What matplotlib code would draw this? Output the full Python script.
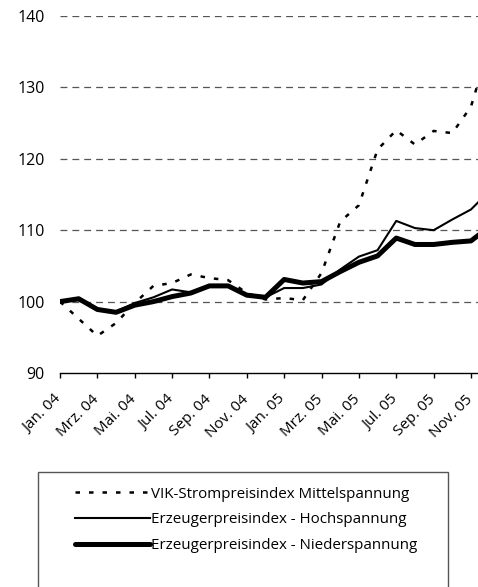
import matplotlib
matplotlib.use("Agg")
import matplotlib.pyplot as plt
from matplotlib.patches import Rectangle
from matplotlib.transforms import ScaledTranslation, blended_transform_factory

plt.rcParams["font.family"] = ["Open Sans", "DejaVu Sans"]

# Monthly index values, Jan. 04 = 100
months = ["Jan. 04", "Feb. 04", "Mrz. 04", "Apr. 04", "Mai. 04", "Jun. 04",
          "Jul. 04", "Aug. 04", "Sep. 04", "Okt. 04", "Nov. 04", "Dez. 04",
          "Jan. 05", "Feb. 05", "Mrz. 05", "Apr. 05", "Mai. 05", "Jun. 05",
          "Jul. 05", "Aug. 05", "Sep. 05", "Okt. 05", "Nov. 05", "Dez. 05"]

vik_mittel = [100.0, 97.6, 95.2, 97.0, 99.8, 102.2, 102.6, 103.8, 103.3, 103.0,
              101.2, 100.3, 100.5, 100.2, 104.0, 111.2, 113.5, 121.3, 124.0,
              122.0, 123.9, 123.6, 127.3, 136.0]
epi_hoch = [100.0, 100.2, 99.0, 98.6, 99.8, 100.6, 101.7, 101.3, 102.2, 102.2,
            101.0, 100.6, 101.9, 101.9, 102.4, 104.5, 106.3, 107.2, 111.3,
            110.3, 110.0, 111.5, 112.9, 115.5]
epi_nieder = [100.0, 100.4, 98.9, 98.5, 99.5, 100.0, 100.7, 101.2, 102.2, 102.2,
              100.9, 100.6, 103.1, 102.6, 102.8, 104.2, 105.5, 106.4, 108.9,
              108.0, 108.0, 108.3, 108.5, 110.5]

labels = ["VIK-Strompreisindex Mittelspannung",
          "Erzeugerpreisindex - Hochspannung",
          "Erzeugerpreisindex - Niederspannung"]

W, H = 478, 587
fig = plt.figure(figsize=(W / 100, H / 100), dpi=100)
ax = fig.add_axes([60 / W, 1 - 373 / H, 1 - 60 / W, (373 - 16) / H])

x = list(range(len(months)))
h_vik, = ax.plot(x, vik_mittel, color="black", lw=1.8,
                 linestyle=(0, (1.8, 3.6)), label=labels[0], zorder=3)
h_hoch, = ax.plot(x, epi_hoch, color="black", lw=1.5, label=labels[1], zorder=4)
h_nieder, = ax.plot(x, epi_nieder, color="black", lw=3.6,
                    solid_capstyle="round", label=labels[2], zorder=5)

ax.set_xlim(0, (W - 60) / 18.68)
ax.set_ylim(90, 140)
ax.set_yticks(range(90, 141, 10))
for v in range(100, 141, 10):
    ax.axhline(v, color="#555555", lw=0.9, linestyle=(0, (5.5, 4)), zorder=1)

# x labels sit below and left of their ticks, so place them by hand
ax.set_xticks(x[::2])
ax.set_xticklabels([])
trans = blended_transform_factory(ax.transData, ax.transAxes) + \
    ScaledTranslation(-6 / 100, -19 / 100, fig.dpi_scale_trans)
for xi, lab in zip(x[::2], months[::2]):
    ax.text(xi, 0, lab, transform=trans, rotation=45, ha="right", va="top",
            rotation_mode="anchor", fontsize=11, clip_on=False)
ax.tick_params(axis="x", direction="out", length=3.6, width=1)
ax.tick_params(axis="y", length=0, pad=11, labelsize=11.5)

for side in ("left", "top", "right"):
    ax.spines[side].set_visible(False)
ax.spines["bottom"].set_linewidth(1)

# legend frame runs past the bottom of the picture
fig.add_artist(Rectangle((38 / W, -0.05), (448 - 38) / W, 1 - 472 / H + 0.05,
                         transform=fig.transFigure, fill=False,
                         edgecolor="#555555", lw=1, clip_on=False))
fig.legend(handles=[h_vik, h_hoch, h_nieder], loc="upper left",
           bbox_to_anchor=(61 / W, 1 - 473 / H), frameon=False,
           handlelength=5.0, handletextpad=0.05, labelspacing=0.7,
           fontsize=10.9)

fig.savefig("out.png", dpi=100)
